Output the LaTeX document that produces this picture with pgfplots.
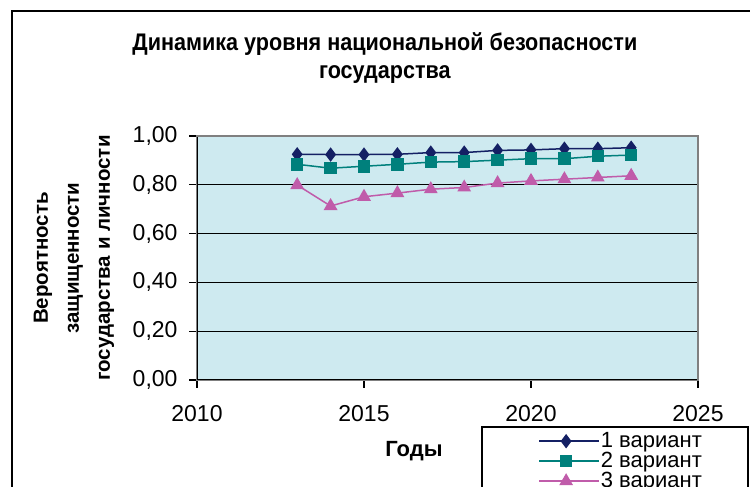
\documentclass[border=0pt]{standalone}
\usepackage{fontspec}
\setmainfont{Liberation Sans}
\newfontfamily\titlefont[FakeStretch=0.9]{Liberation Sans}
\usepackage{pgfplots}
\pgfplotsset{compat=1.18}
\definecolor{bgblue}{RGB}{206,234,240}
\definecolor{sone}{RGB}{20,32,100}
\definecolor{stwo}{RGB}{0,128,124}
\definecolor{sthree}{RGB}{192,92,170}
\begin{document}
\begin{tikzpicture}[x=1pt,y=1pt]
\useasboundingbox (0,0) rectangle (750,487);
\clip (0,0) rectangle (750,487);
\fill[white] (0,0) rectangle (750,487);
\draw[line width=1.3pt] (12,-20) -- (12,476) -- (780,476);
\begin{axis}[
  at={(197pt,107pt)}, anchor=south west,
  scale only axis, width=501pt, height=244pt,
  xmin=2010, xmax=2025, ymin=0, ymax=1,
  xtick={2010,2015,2020,2025},
  ytick={0,0.2,0.4,0.6,0.8,1},
  xtick pos=left, ytick pos=left,
  tick align=outside, major tick length=8pt,
  every tick/.style={black, line width=1.2pt},
  ymajorgrids, grid style={black, line width=1.2pt},
  axis line style={draw=gray, line width=1.2pt},
  axis background/.style={fill=bgblue},
  /pgf/number format/assume math mode=true,
  x tick label style={/pgf/number format/1000 sep={}, font=\fontsize{23}{26}\selectfont, yshift=-14pt},
  y tick label style={/pgf/number format/.cd, use comma, fixed, fixed zerofill, precision=2, /tikz/.cd, font=\fontsize{23}{26}\selectfont, xshift=-8pt},
  title={Динамика уровня национальной безопасности\\государства},
  title style={at={(rel axis cs:0.375,1.295)}, anchor=center, align=center, font=\titlefont\bfseries\fontsize{24}{28}\selectfont},
  xlabel={Годы},
  xlabel style={at={(rel axis cs:0.433,-0.291)}, anchor=center, font=\bfseries\fontsize{22}{26}\selectfont},
  ylabel={Вероятность\\защищенности\\государства и личности},
  ylabel style={at={(rel axis cs:-0.2455,0.5)}, anchor=center, align=center, font=\bfseries\fontsize{20.5}{31}\selectfont},
  legend style={at={(rel axis cs:0.681,-0.209)}, anchor=north west, draw=none, fill=none, inner sep=0pt,
    font=\fontsize{22}{20}\selectfont, row sep=0pt,
    nodes={inner sep=1pt, text height=15pt, text depth=3pt}},
  legend cell align=left,
  legend image code/.code={\path (0pt,0pt) -- (60pt,0pt);\draw[mark repeat=2,mark phase=2,#1] plot coordinates {(0pt,0pt) (27pt,0pt) (54pt,0pt)};},
]
\addplot[color=sone, line width=1.5pt, mark=diamond*, mark size=6pt, mark options={solid}] coordinates {
(2013,0.925) (2014,0.924) (2015,0.924) (2016,0.925) (2017,0.932) (2018,0.932) (2019,0.941) (2020,0.943) (2021,0.948) (2022,0.948) (2023,0.952)};
\addlegendentry{1 вариант}
\addplot[color=stwo, line width=1.5pt, mark=square*, mark size=5.5pt] coordinates {
(2013,0.884) (2014,0.868) (2015,0.876) (2016,0.884) (2017,0.893) (2018,0.895) (2019,0.901) (2020,0.907) (2021,0.907) (2022,0.917) (2023,0.922)};
\addlegendentry{2 вариант}
\addplot[color=sthree, line width=1.5pt, mark=triangle*, mark size=6.5pt] coordinates {
(2013,0.799) (2014,0.713) (2015,0.751) (2016,0.766) (2017,0.782) (2018,0.789) (2019,0.807) (2020,0.816) (2021,0.823) (2022,0.830) (2023,0.837)};
\addlegendentry{3 вариант}
\draw[black, line width=1.2pt] (rel axis cs:0,0) -- (rel axis cs:0,1);
\draw[black, line width=1.2pt] (rel axis cs:0,0) -- (rel axis cs:1,0);
\draw[gray, line width=1.2pt] (rel axis cs:0,1) -- (rel axis cs:1,1) -- (rel axis cs:1,0);
\end{axis}
\draw[line width=1.2pt] (482,60) rectangle (748,-20);
\end{tikzpicture}
\end{document}
